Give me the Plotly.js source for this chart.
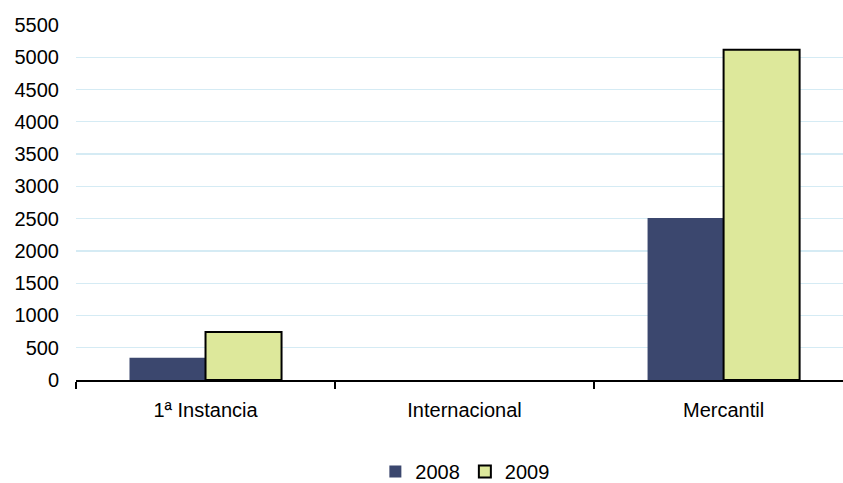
<!DOCTYPE html>
<html>
<head>
<meta charset="utf-8">
<script src="https://cdn.plot.ly/plotly-3.0.1.min.js"></script>
<style>html,body{margin:0;padding:0;background:#fff;}#chart{width:843px;height:483px;}</style>
</head>
<body>
<div id="chart"></div>
<script>
const categories = ["1ª Instancia", "Internacional", "Mercantil"];
const series2008 = [345, 0, 2510];
const series2009 = [745, 0, 5115];
const seriesNames = ["2008", "2009"];
const yTicks = [0, 500, 1000, 1500, 2000, 2500, 3000, 3500, 4000, 4500, 5000, 5500];

const font = {family: "Liberation Sans, Arial, sans-serif", size: 20, color: "#000"};

const traces = [
  {type: "bar", name: seriesNames[0], x: categories, y: series2008,
   marker: {color: "#3b476e", line: {width: 0}}},
  {type: "bar", name: seriesNames[1], x: categories, y: series2009,
   marker: {color: "#dde89b", line: {color: "#000", width: [2, 0, 2]}}}
];

const layout = {
  width: 843, height: 483,
  margin: {l: 76, r: 0, t: 25, b: 103, pad: 0, autoexpand: false},
  paper_bgcolor: "#fff", plot_bgcolor: "#fff",
  font: font,
  barmode: "group", bargap: 0.413, bargroupgap: 0,
  showlegend: true,
  legend: {orientation: "h", xref: "paper", yref: "paper", x: 0.507, xanchor: "center",
           y: -0.203, yanchor: "top", font: font, itemwidth: 30, traceorder: "normal"},
  xaxis: {type: "category", range: [-0.5, 2.461], showgrid: false, showline: true,
          linecolor: "#000", linewidth: 1.5, ticks: "outside", tickson: "boundaries",
          ticklen: 7, tickwidth: 1.5, tickcolor: "#000", ticklabelstandoff: 11, tickangle: 0,
          automargin: false, zeroline: false, fixedrange: true},
  yaxis: {range: [0, 5500], tickvals: yTicks, ticktext: yTicks.map(String), showgrid: true,
          gridcolor: "#d5ebf4", gridwidth: 1.3, showline: false, zeroline: false, ticks: "",
          ticklabelstandoff: 16, automargin: false, fixedrange: true}
};

Plotly.newPlot("chart", traces, layout, {displayModeBar: false, staticPlot: true});
</script>
</body>
</html>
